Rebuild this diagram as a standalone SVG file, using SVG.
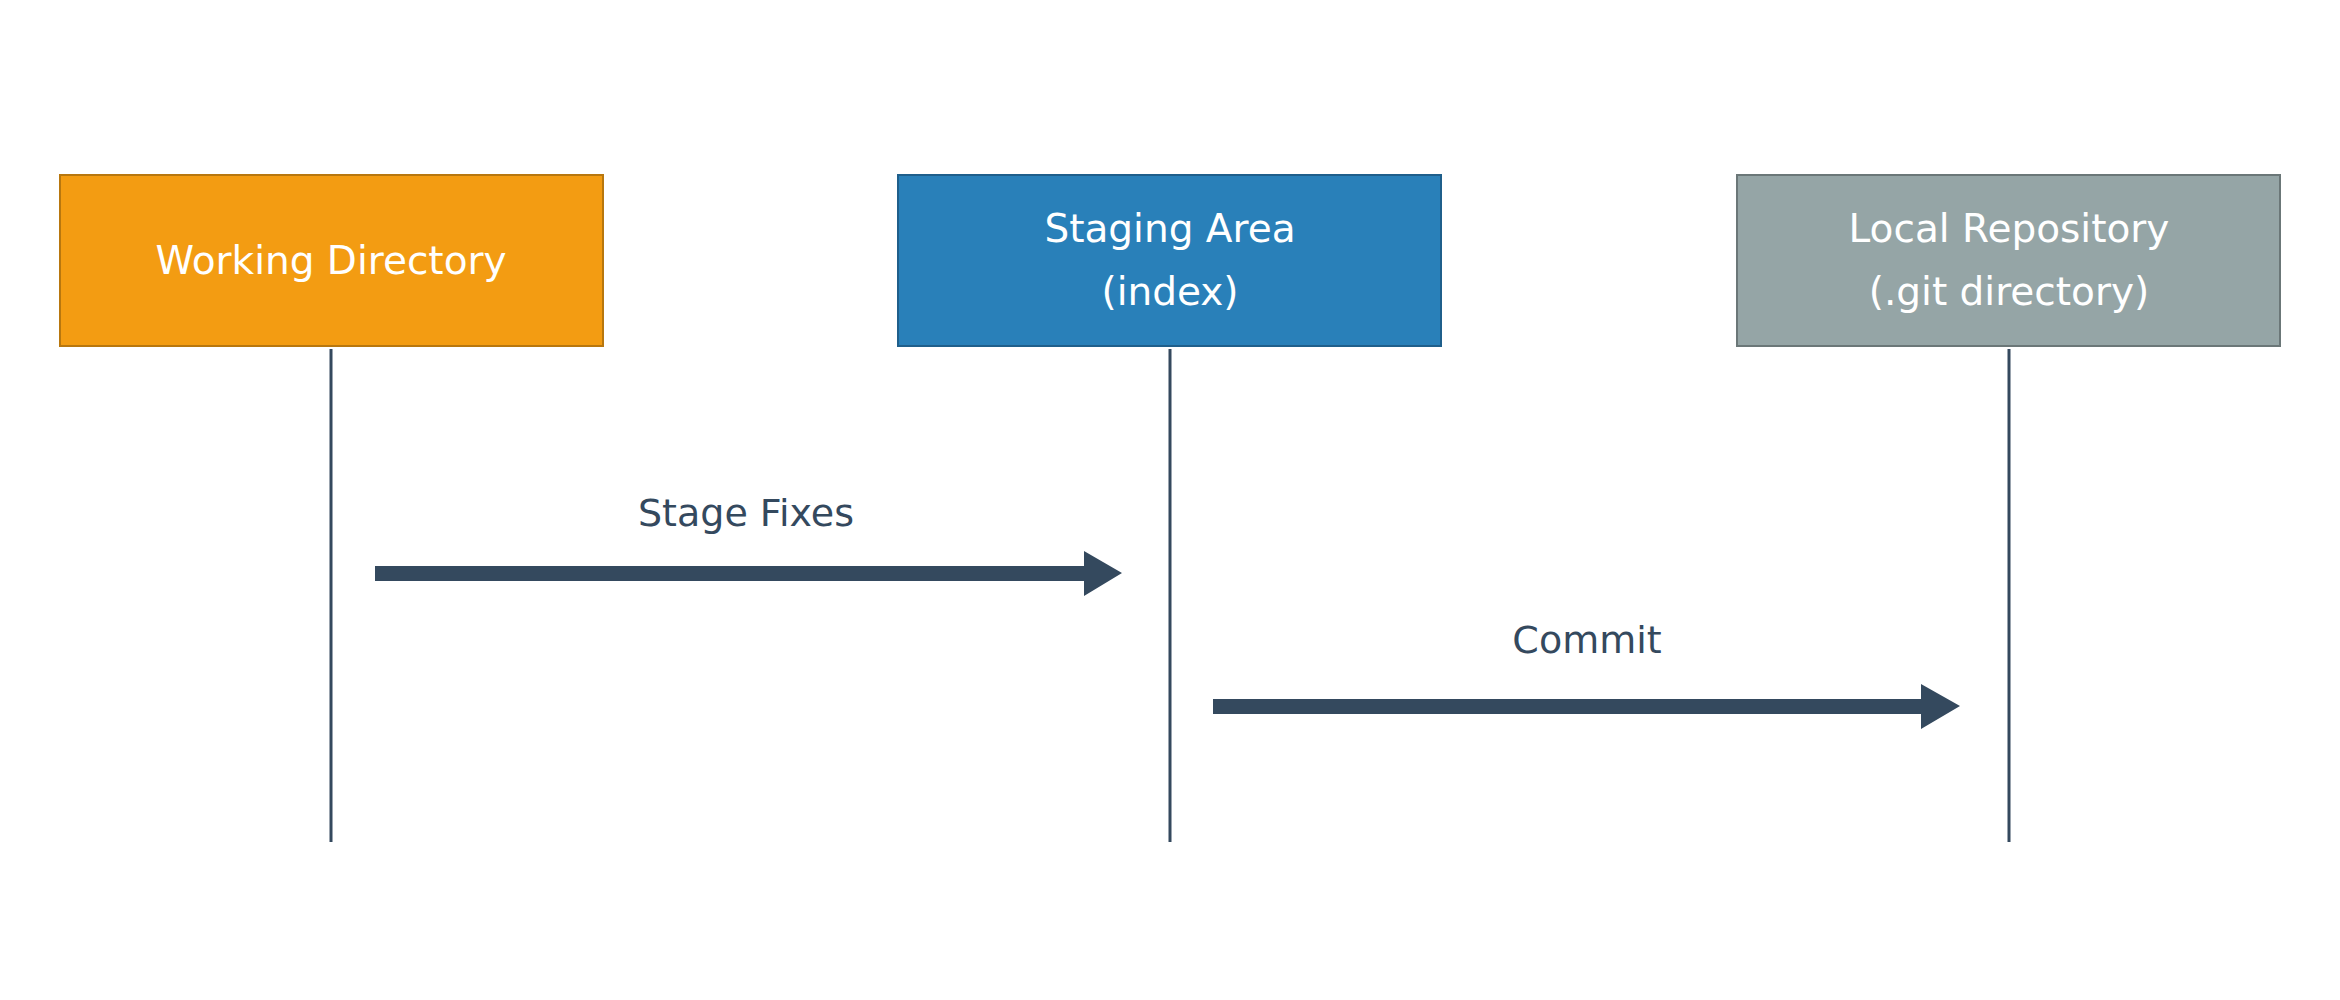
<svg xmlns="http://www.w3.org/2000/svg" width="2340" height="1000" viewBox="0 0 2340 1000">
<style>
.box{stroke-width:2}
.lbl{font-family:"DejaVu Sans","Liberation Sans",sans-serif;fill:#ffffff;text-anchor:middle;font-size:39px}
.msg{font-family:"DejaVu Sans","Liberation Sans",sans-serif;fill:#34495e;text-anchor:middle;font-size:38px}
.life{stroke:#34495e;stroke-width:3;fill:none}
.shaft{fill:#34495e}
</style>
<rect width="2340" height="1000" fill="#ffffff"/>
<g id="working-directory">
<rect class="box" x="60" y="175" width="543" height="171" fill="#f39c12" stroke="#b8770e"/>
<text class="lbl" x="331" y="274">Working Directory</text>
</g>
<g id="staging-area">
<rect class="box" x="898" y="175" width="543" height="171" fill="#2980b9" stroke="#1f5f8b"/>
<text class="lbl" x="1170" y="242">Staging Area</text>
<text class="lbl" x="1170" y="305">(index)</text>
</g>
<g id="local-repository">
<rect class="box" x="1737" y="175" width="543" height="171" fill="#95a5a6" stroke="#6b7778"/>
<text class="lbl" x="2009" y="242">Local Repository</text>
<text class="lbl" x="2009" y="305">(.git directory)</text>
</g>
<g id="connectors">
<line class="life" x1="331" y1="349" x2="331" y2="842"/>
<line class="life" x1="1170" y1="349" x2="1170" y2="842"/>
<line class="life" x1="2009" y1="349" x2="2009" y2="842"/>
<polygon class="shaft" points="375,566 1084,566 1084,551 1122,573 1084,596 1084,581 375,581"/>
<polygon class="shaft" points="1213,699 1921,699 1921,684 1960,706 1921,729 1921,714 1213,714"/>
<text class="msg" x="746" y="526">Stage Fixes</text>
<text class="msg" x="1587" y="653" font-size="40">Commit</text>
</g>
</svg>
